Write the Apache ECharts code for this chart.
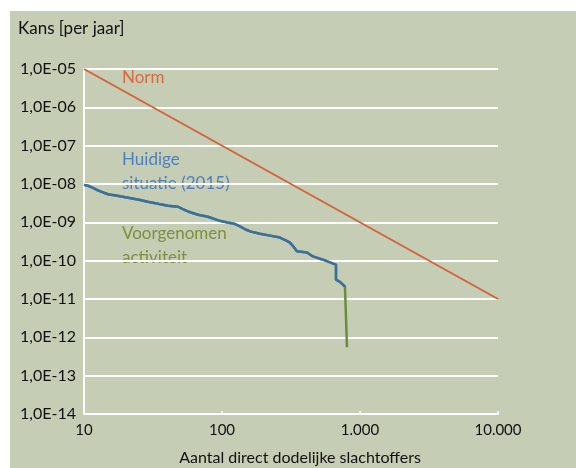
<!DOCTYPE html>
<html>
<head>
<meta charset="utf-8">
<script src="https://cdn.jsdelivr.net/npm/echarts@6/dist/echarts.min.js"></script>
<style>
html,body{margin:0;padding:0;background:#ffffff;}
#c{width:576px;height:468px;}
</style>
</head>
<body>
<div id="c"></div>
<script>
const xTickLabels = {10:'10', 100:'100', 1000:'1.000', 10000:'10.000'};
const yTickLabels = ['1,0E-14','1,0E-13','1,0E-12','1,0E-11','1,0E-10','1,0E-09','1,0E-08','1,0E-07','1,0E-06','1,0E-05'];

const normData = [[10, 1e-5], [10000, 1e-11]];

const huidigeData = [
  [10, 9.5e-9], [10.7, 9.0e-9], [11.5, 8.0e-9], [12.6, 6.8e-9], [14.9, 5.4e-9], [17, 5.0e-9], [20.9, 4.4e-9],
  [25, 3.9e-9], [29, 3.45e-9], [35, 3.0e-9], [40.6, 2.7e-9], [48, 2.55e-9], [52, 2.2e-9], [56.7, 1.92e-9], [67, 1.58e-9],
  [79, 1.4e-9], [94, 1.12e-9], [110, 9.9e-10], [122, 9.2e-10], [135, 7.8e-10], [147, 6.6e-10],
  [160, 5.8e-10], [188, 5.05e-10], [223, 4.5e-10], [263, 4.0e-10], [290, 3.4e-10], [311, 2.95e-10], [330, 2.3e-10],
  [349, 1.75e-10], [413, 1.64e-10], [456, 1.29e-10], [539, 1.06e-10], [600, 9.2e-11], [640, 8.4e-11],
  [670, 7.9e-11], [670, 3.2e-11], [716, 2.8e-11], [778, 2.1e-11]
];

const voorgenomenData = huidigeData.concat([[790, 1.9e-11], [805, 5.5e-13]]);

const chart = echarts.init(document.getElementById('c'), null, {renderer:'canvas'});
const FONT = 'Lato';
chart.setOption({
  animation: false,
  graphic: [
    {type:'rect', z:-10, silent:true, shape:{x:10, y:11, width:566, height:457}, style:{fill:'#c5cdb4'}},
    {type:'text', left:18, top:20, style:{text:'Kans [per jaar]', font:'17px Lato', fill:'#111111'}},
    {type:'text', x:300, y:458, style:{text:'Aantal direct dodelijke slachtoffers', font:'16px Lato', fill:'#111111', align:'center', verticalAlign:'middle'}},
    {type:'text', x:122, y:78, style:{text:'Norm', font:'17px Lato', fill:'#d9683f', verticalAlign:'middle'}},
    {type:'text', x:122, y:160, style:{text:'Huidige', font:'17px Lato', fill:'#4f7fbf', verticalAlign:'middle'}},
    {type:'text', x:122, y:184, style:{text:'situatie (2015)', font:'17px Lato', fill:'#4f7fbf', verticalAlign:'middle'}},
    {type:'text', x:122, y:234, style:{text:'Voorgenomen', font:'17px Lato', fill:'#7f8f40', verticalAlign:'middle'}},
    {type:'text', x:122, y:258, style:{text:'activiteit', font:'17px Lato', fill:'#7f8f40', verticalAlign:'middle'}}
  ],
  grid: {left:84, right:78, top:69, bottom:54, containLabel:false},
  xAxis: {
    type:'log', logBase:10, min:10, max:10000,
    axisLine:{show:true, lineStyle:{color:'#ffffff', width:2}},
    axisTick:{show:true, inside:true, length:3, lineStyle:{color:'#ffffff', width:1.5}},
    splitLine:{show:false},
    minorTick:{show:false},
    axisLabel:{margin:9, fontFamily:FONT, fontSize:15, color:'#111111',
      formatter:function(v){ const k = Math.round(v); return xTickLabels[k] !== undefined ? xTickLabels[k] : ''; }}
  },
  yAxis: {
    type:'log', logBase:10, min:1e-14, max:1e-5, interval:1,
    axisLine:{show:true, lineStyle:{color:'#ffffff', width:2}},
    axisTick:{show:false},
    splitLine:{show:true, lineStyle:{color:'#ffffff', width:2}},
    axisLabel:{margin:8, fontFamily:FONT, fontSize:16, color:'#111111',
      formatter:function(v){ const e = Math.round(Math.log10(v)); const i = e + 14; return yTickLabels[i] || ''; }}
  },
  series: [
    {type:'line', data:normData, symbol:'none', lineStyle:{color:'#d4623c', width:2}, z:3},
    {type:'line', data:voorgenomenData, symbol:'none', lineStyle:{color:'#6f8a3a', width:2.5}, z:4},
    {type:'line', data:huidigeData, symbol:'none', lineStyle:{color:'#3a6ea5', width:2.5}, z:5}
  ]
});
</script>
</body>
</html>
